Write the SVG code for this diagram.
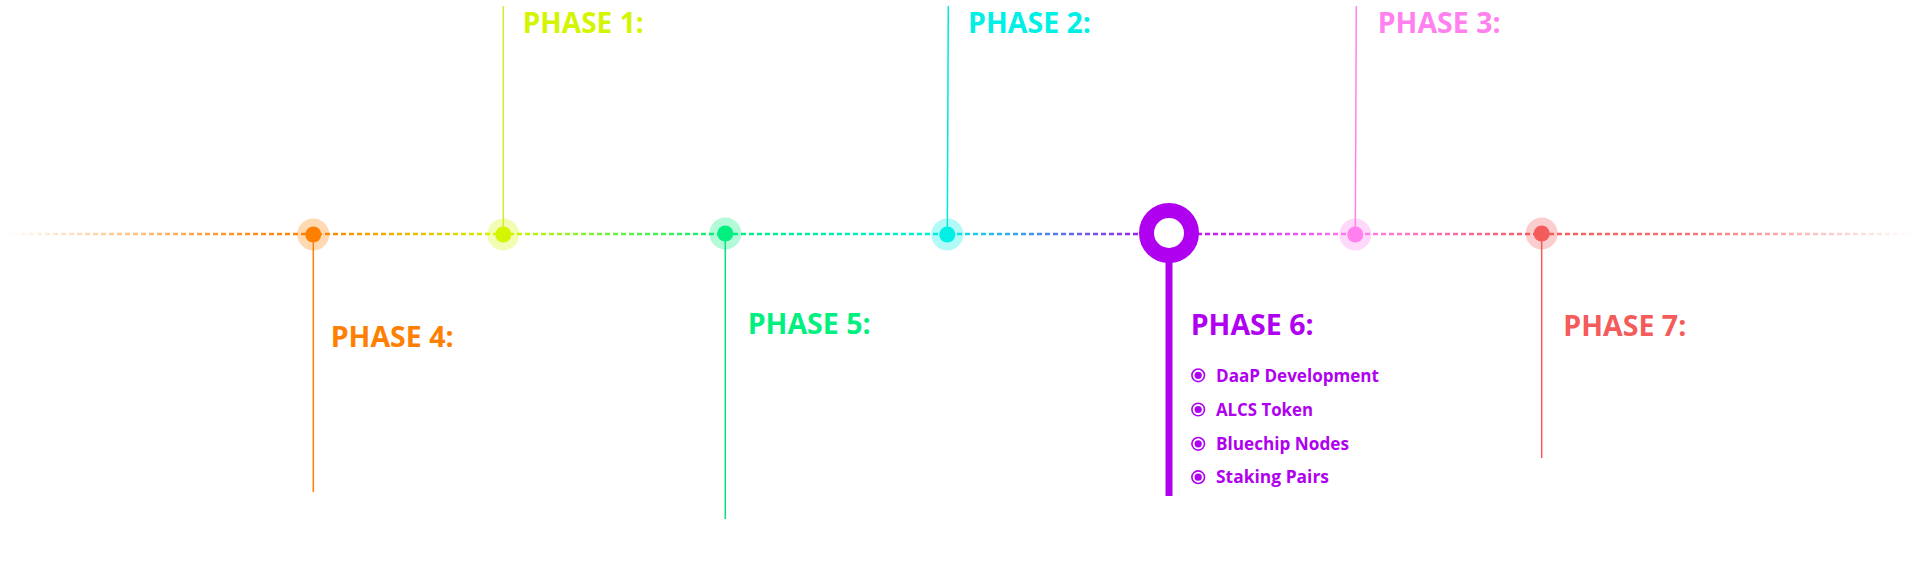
<svg xmlns="http://www.w3.org/2000/svg" width="1920" height="561" viewBox="0 0 1920 561">
<defs>
<linearGradient id="tl" gradientUnits="userSpaceOnUse" x1="0" y1="0" x2="1920" y2="0">
<stop offset="0.003" stop-color="#FF8000" stop-opacity="0"/>
<stop offset="0.12" stop-color="#FF8000" stop-opacity="0.85"/>
<stop offset="0.163" stop-color="#FF8000"/>
<stop offset="0.262" stop-color="#D4F500"/>
<stop offset="0.378" stop-color="#00F07F"/>
<stop offset="0.493" stop-color="#00F0E6"/>
<stop offset="0.609" stop-color="#B000F0"/>
<stop offset="0.706" stop-color="#FF80EE"/>
<stop offset="0.803" stop-color="#F45B5B"/>
<stop offset="0.88" stop-color="#F45B5B" stop-opacity="0.85"/>
<stop offset="0.997" stop-color="#F45B5B" stop-opacity="0"/>
</linearGradient>
<symbol id="bul" overflow="visible">
<circle cx="0" cy="0" r="6.3" fill="none" stroke="#B000F0" stroke-width="1.6"/>
<circle cx="0" cy="0" r="3.6" fill="#B000F0"/>
</symbol>
</defs>
<style>
.ph{font-family:"Open Sans",Lato,sans-serif;font-weight:700;font-size:29px}
.it{font-family:"Open Sans",Lato,sans-serif;font-weight:700;font-size:18.5px;fill:#B000F0}
.vl{fill:none;stroke-width:1.5}
.halo{opacity:0.3}
</style>
<rect width="1920" height="561" fill="#FFFFFF"/>
<g id="connectors">
<line x1="5" y1="234" x2="1914" y2="234" stroke="url(#tl)" stroke-width="2.5" stroke-dasharray="5 3"/>
<line class="vl" x1="313.3" y1="234" x2="313.3" y2="492" stroke="#FF8000"/>
<line class="vl" x1="503.3" y1="6" x2="503.3" y2="234" stroke="#D4EC30"/>
<line class="vl" x1="725.3" y1="234" x2="725.3" y2="519" stroke="#00E080"/>
<line class="vl" x1="948.3" y1="6" x2="947.3" y2="234" stroke="#00E8E0"/>
<line x1="1169" y1="240" x2="1169" y2="496" stroke="#B000F0" stroke-width="7"/>
<line class="vl" x1="1356.3" y1="6" x2="1355.3" y2="234" stroke="#FF80EE"/>
<line class="vl" x1="1541.7" y1="234" x2="1541.7" y2="458" stroke="#F45B5B"/>
</g>
<g id="phase4">
<circle class="halo" cx="313.3" cy="234.5" r="16" fill="#FF8000"/>
<circle cx="313.3" cy="234.5" r="8" fill="#FF8000"/>
<text class="ph" x="330.7" y="346.7" fill="#FF8000" textLength="123" lengthAdjust="spacingAndGlyphs">PHASE 4:</text>
</g>
<g id="phase1">
<circle class="halo" cx="503.3" cy="234.5" r="16" fill="#D4F500"/>
<circle cx="503.3" cy="234.5" r="8" fill="#D4F500"/>
<text class="ph" x="522.7" y="33.3" fill="#D4F500" textLength="121" lengthAdjust="spacingAndGlyphs">PHASE 1:</text>
</g>
<g id="phase5">
<circle class="halo" cx="725.3" cy="233.5" r="16" fill="#00F07F"/>
<circle cx="725.3" cy="233.5" r="8" fill="#00F07F"/>
<text class="ph" x="747.7" y="334" fill="#00F07F" textLength="123" lengthAdjust="spacingAndGlyphs">PHASE 5:</text>
</g>
<g id="phase2">
<circle class="halo" cx="947.3" cy="234.5" r="16" fill="#00F0E6"/>
<circle cx="947.3" cy="234.5" r="8" fill="#00F0E6"/>
<text class="ph" x="968" y="33.3" fill="#00F0E6" textLength="123" lengthAdjust="spacingAndGlyphs">PHASE 2:</text>
</g>
<g id="phase6">
<circle cx="1169" cy="233" r="22.5" fill="#FFFFFF" stroke="#B000F0" stroke-width="15"/>
<text class="ph" x="1190.7" y="335" fill="#B000F0" textLength="123" lengthAdjust="spacingAndGlyphs">PHASE 6:</text>
<use href="#bul" x="1198.2" y="375.3"/>
<text class="it" x="1216" y="381.7" textLength="163" lengthAdjust="spacingAndGlyphs">DaaP Development</text>
<use href="#bul" x="1198.2" y="409.5"/>
<text class="it" x="1216" y="415.7" textLength="97" lengthAdjust="spacingAndGlyphs">ALCS Token</text>
<use href="#bul" x="1198.2" y="443.8"/>
<text class="it" x="1216" y="450" textLength="133" lengthAdjust="spacingAndGlyphs">Bluechip Nodes</text>
<use href="#bul" x="1198.2" y="477.2"/>
<text class="it" x="1216" y="483.3" textLength="113" lengthAdjust="spacingAndGlyphs">Staking Pairs</text>
</g>
<g id="phase3">
<circle class="halo" cx="1355.3" cy="234.5" r="16" fill="#FF80EE"/>
<circle cx="1355.3" cy="234.5" r="8" fill="#FF80EE"/>
<text class="ph" x="1377.7" y="33.3" fill="#FF80EE" textLength="123" lengthAdjust="spacingAndGlyphs">PHASE 3:</text>
</g>
<g id="phase7">
<circle class="halo" cx="1541.7" cy="233.5" r="16" fill="#F45B5B"/>
<circle cx="1541.7" cy="233.5" r="8" fill="#F45B5B"/>
<text class="ph" x="1563.3" y="335.7" fill="#F45B5B" textLength="123" lengthAdjust="spacingAndGlyphs">PHASE 7:</text>
</g>
</svg>
